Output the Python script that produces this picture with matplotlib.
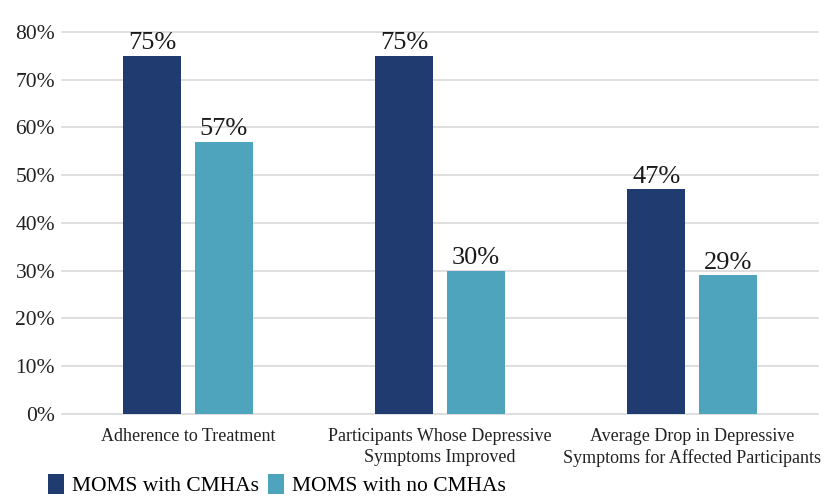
import matplotlib.pyplot as plt
import numpy as np

categorias = ['Adherence to Treatment',
              'Participants Whose Depressive\nSymptoms Improved',
              'Average Drop in Depressive\nSymptoms for Affected Participants']
com_cmha = [75, 75, 47]
sem_cmha = [57, 30, 29]
series = ['MOMS with CMHAs', 'MOMS with no CMHAs']
cores = ['#1f3b6f', '#4ea3bd']

plt.rcParams['font.family'] = ['Liberation Serif', 'DejaVu Serif']

fig = plt.figure(figsize=(8.27, 4.97), dpi=100)
ax = fig.add_axes([0.075, 0.167, 0.914, 0.769])

x = np.arange(len(categorias))
larg = 0.23
desloc = 0.142

b1 = ax.bar(x - desloc, com_cmha, larg, color=cores[0], label=series[0], zorder=3)
b2 = ax.bar(x + desloc, sem_cmha, larg, color=cores[1], label=series[1], zorder=3)

for barras in (b1, b2):
    for b in barras:
        h = b.get_height()
        ax.text(b.get_x() + b.get_width() / 2, h + 0.3, f'{h:.0f}%',
                ha='center', va='bottom', fontsize=19, color='#1a1a1a')

ax.set_xlim(-0.5, 2.5)
ax.set_ylim(0, 80)
ax.set_yticks(range(0, 81, 10))
ax.set_yticklabels([f'{v}%' for v in range(0, 81, 10)], fontsize=15.5, color='#222222')
ax.set_xticks(x)
ax.set_xticklabels(categorias, fontsize=13, color='#222222', linespacing=1.3)
ax.tick_params(axis='both', length=0)
ax.tick_params(axis='y', pad=5)
ax.tick_params(axis='x', pad=10)

ax.yaxis.grid(True, color='#d9d9d9', linewidth=1.2, zorder=0)
for lin in ax.get_ygridlines():
    lin.set_clip_on(False)
for s in ax.spines.values():
    s.set_visible(False)

fig.legend(loc='center left', bbox_to_anchor=(0.058, 0.024), ncol=2, frameon=False,
           fontsize=15.5, handlelength=0.75, handleheight=1.1, handletextpad=0.35,
           columnspacing=0.45, borderaxespad=0, borderpad=0)

fig.savefig('out.png', dpi=100)
